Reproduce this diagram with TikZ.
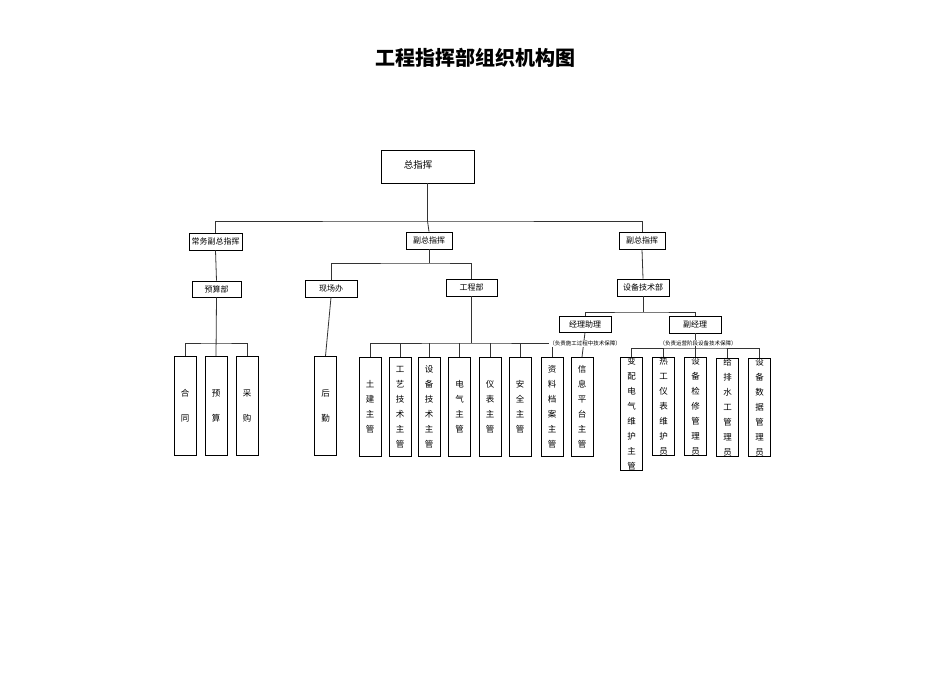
\documentclass[tikz,border=0pt]{standalone}
\usepackage{fontspec}
\newfontfamily\cjk{Noto Sans CJK SC}
\begin{document}
\begin{tikzpicture}[x=1pt,y=-1pt,
  bx/.style={draw=black,line width=0.8pt,inner sep=0pt,font=\cjk\fontsize{8}{10}\selectfont},
  tall/.style={draw=black,line width=0.8pt,inner sep=0pt,minimum width=22pt,minimum height=99pt,anchor=north,font=\cjk\fontsize{8.5}{15}\selectfont,align=center},
  ln/.style={draw=black!80,line width=0.8pt}]
\useasboundingbox (0,0) rectangle (950,672);
\node[font=\cjk\bfseries\fontsize{20}{24}\selectfont] (title) at (475,58) {工程指挥部组织机构图};
% top
\node[bx,minimum width=93pt,minimum height=33pt] (zzh) at (427.5,166.5) {};
\node[font=\cjk\fontsize{9.5}{11}\selectfont] (zzht) at (418,165) {总指挥};
\node[bx,minimum width=53pt,minimum height=17pt] (cw) at (215.5,241.5) {常务副总指挥};
\node[bx,minimum width=46pt,minimum height=17pt] (f1) at (429,240.5) {副总指挥};
\node[bx,minimum width=46pt,minimum height=17pt] (f2) at (642,240.5) {副总指挥};
\draw[ln] (zzh.south) -- (427.5,221) coordinate (j0);
\draw[ln] (cw.north) |- (j0) -| (f2.north);
\draw[ln] (j0) -- (f1.north);
% level 3
\node[bx,minimum width=49pt,minimum height=16pt] (ys) at (216.5,289) {预算部};
\node[bx,minimum width=52pt,minimum height=17pt] (xc) at (331,288.5) {现场办};
\node[bx,minimum width=51pt,minimum height=17pt] (gc) at (471.5,287.5) {工程部};
\node[bx,minimum width=52pt,minimum height=17pt] (sb) at (643,287.5) {设备技术部};
\draw[ln] (cw.south) -- (ys.north);
\draw[ln] (f1.south) -- (429,263) coordinate (j1);
\draw[ln] (xc.north) |- (j1) -| (gc.north);
\draw[ln] (f2.south) -- (sb.north);
% 预算部 children
\node[tall] (ht) at (185,356) {合\\[10pt]同};
\node[tall] (yst) at (216,356) {预\\[10pt]算};
\node[tall] (cg) at (247,356) {采\\[10pt]购};
\draw[ln] (ys.south) -- (yst.north);
\draw[ln] (ht.north) |- (216,343) -| (cg.north);
% 后勤
\node[tall] (hq) at (325.5,356) {后\\[10pt]勤};
\draw[ln] (xc.south) -- (hq.north);
% 工程部 children
\node[tall] (tj) at (370,357) {土\\建\\主\\管};
\node[tall] (gy) at (400,357) {工\\艺\\技\\术\\主\\管};
\node[tall] (sj) at (429,357) {设\\备\\技\\术\\主\\管};
\node[tall] (dq) at (459.5,357) {电\\气\\主\\管};
\node[tall] (yb) at (490,357) {仪\\表\\主\\管};
\node[tall] (aq) at (520,357) {安\\全\\主\\管};
\node[tall] (zl) at (552,357) {资\\料\\档\\案\\主\\管};
\node[tall] (xx) at (582,357) {信\\息\\平\\台\\主\\管};
\draw[ln] (gc.south) -- (471.5,343) coordinate (j2);
\draw[ln] (tj.north) |- (j2) -| (zl.north);
\foreach \n in {gy,sj,dq,yb,aq} \draw[ln] (\n.north) -- (\n.north |- j2);
% 设备技术部 children
\node[bx,minimum width=52pt,minimum height=16pt] (jl) at (585,324) {经理助理};
\node[bx,minimum width=52pt,minimum height=17pt] (fj) at (695,324.5) {副经理};
\draw[ln] (sb.south) -- (643,312) coordinate (j3);
\draw[ln] (jl.north) |- (j3) -| (fj.north);
\draw[ln] (jl.south) -- (xx.north);
\node[font=\cjk\fontsize{5.5}{6}\selectfont,fill=white,inner sep=0.5pt] (n1) at (585,343.5) {（负责施工过程中技术保障）};
\node[tall,minimum height=98pt] (bp) at (631.5,357) {变\\配\\电\\气\\维\\护\\主\\管};
\node[tall,minimum height=98pt] (rg) at (663.5,357) {热\\工\\仪\\表\\维\\护\\员};
\node[tall,minimum height=98pt] (jx) at (695.5,357) {设\\备\\检\\修\\管\\理\\员};
\node[tall,minimum height=98pt] (gp) at (727.5,358) {给\\排\\水\\工\\管\\理\\员};
\node[tall,minimum height=98pt] (sj2) at (759.5,358) {设\\备\\数\\据\\管\\理\\员};
\draw[ln] (fj.south) -- (695,348) coordinate (j4);
\draw[ln] (bp.north) |- (j4) -| (sj2.north);
\foreach \n in {rg,jx,gp} \draw[ln] (\n.north) -- (\n.north |- j4);
\node[font=\cjk\fontsize{5.5}{6}\selectfont,fill=white,inner sep=0.5pt] (n2) at (698,343) {（负责运营阶段设备技术保障）};
\end{tikzpicture}
\end{document}
